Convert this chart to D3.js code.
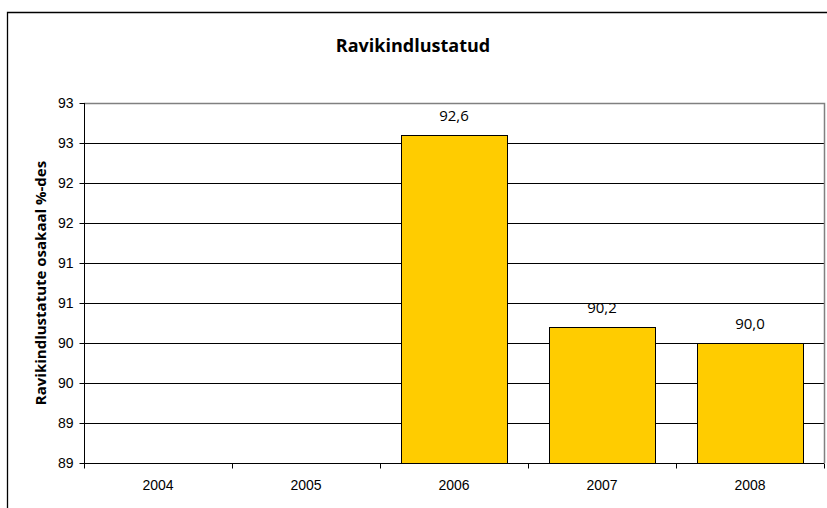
<!DOCTYPE html>
<html>
<head>
<meta charset="utf-8">
<script src="https://cdn.jsdelivr.net/npm/d3@7"></script>
<style>
  body { margin: 0; background: #fff; }
  svg { display: block; }
</style>
</head>
<body>
<svg id="chart"></svg>
<script>
var years = ["2004", "2005", "2006", "2007", "2008"];
var values = [null, null, 92.6, 90.2, 90.0];
var yTicks = [88.5, 89, 89.5, 90, 90.5, 91, 91.5, 92, 92.5, 93];

var width = 827, height = 508;
var plotLeft = 84, plotRight = 824, plotTop = 103, plotBottom = 463;

var svg = d3.select("#chart")
  .attr("width", width)
  .attr("height", height);

// outer chart frame (cut off at right and bottom)
svg.append("path")
  .attr("d", "M7.5," + (height + 2) + "V12.5H" + (width + 2))
  .style("fill", "none")
  .style("stroke", "#000")
  .style("stroke-width", 1.3);

svg.append("text")
  .attr("x", 413)
  .attr("y", 52)
  .attr("text-anchor", "middle")
  .style("font-family", "'Liberation Sans Narrow', 'Open Sans', sans-serif")
  .style("font-size", "18px")
  .style("font-weight", "bold")
  .text("Ravikindlustatud");

var x = d3.scaleBand()
  .domain(years)
  .range([plotLeft, plotRight])
  .paddingInner(0.285)
  .paddingOuter(0.1425);

var xTickScale = d3.scaleBand()
  .domain(years)
  .range([plotLeft, plotRight]);

var y = d3.scaleLinear()
  .domain([88.5, 93])
  .range([plotBottom, plotTop]);

// gridlines
svg.append("g")
  .selectAll("line")
  .data(yTicks.slice(1, -1))
  .enter().append("line")
    .attr("x1", plotLeft)
    .attr("x2", plotRight)
    .attr("y1", function (d) { return Math.round(y(d)) + 0.5; })
    .attr("y2", function (d) { return Math.round(y(d)) + 0.5; })
    .style("stroke", "#000")
    .style("stroke-width", 1);

// plot area border (top + right)
svg.append("path")
  .attr("d", "M" + plotLeft + "," + (plotTop + 0.5) + "H" + (plotRight + 0.5) + "V" + plotBottom)
  .style("fill", "none")
  .style("stroke", "#808080")
  .style("stroke-width", 1.5);

var barData = years.map(function (yr, i) { return { year: yr, value: values[i] }; })
  .filter(function (d) { return d.value != null; });

// bars
svg.append("g")
  .selectAll("rect")
  .data(barData)
  .enter().append("rect")
    .attr("x", function (d) { return Math.round(x(d.year)) + 0.5; })
    .attr("y", function (d) { return Math.round(y(d.value)) + 0.5; })
    .attr("width", Math.round(x.bandwidth()))
    .attr("height", function (d) { return plotBottom - Math.round(y(d.value)); })
    .style("fill", "#ffcc00")
    .style("stroke", "#000")
    .style("stroke-width", 1);

// value labels
svg.append("g")
  .selectAll("text")
  .data(barData)
  .enter().append("text")
    .attr("x", function (d) { return x(d.year) + x.bandwidth() / 2; })
    .attr("y", function (d) { return y(d.value) - 14; })
    .attr("text-anchor", "middle")
    .style("font-family", "'Liberation Sans Narrow', 'Open Sans', sans-serif")
    .style("font-size", "15px")
    .text(function (d) { return d.value.toFixed(1).replace(".", ","); });

// y axis
var yAxis = svg.append("g")
  .attr("transform", "translate(" + (plotLeft + 0.5) + ",0)")
  .call(d3.axisLeft(y)
    .tickValues(yTicks)
    .tickSize(5)
    .tickPadding(6)
    .tickFormat(function (d) { return Math.round(d); }));
yAxis.select(".domain").attr("d", "M0," + plotTop + "V" + plotBottom).style("stroke", "#000");
yAxis.selectAll("text")
  .style("font-family", "'Liberation Sans', Arial, sans-serif")
  .style("font-size", "14px")
  .style("fill", "#000");

// x axis
var xAxis = svg.append("g")
  .attr("transform", "translate(0," + (plotBottom + 0.5) + ")")
  .call(d3.axisBottom(xTickScale).tickSize(0).tickPadding(17));
xAxis.select(".domain").attr("d", "M" + plotLeft + ",0H" + plotRight).style("stroke", "#000");
xAxis.selectAll("text")
  .style("font-family", "'Liberation Sans', Arial, sans-serif")
  .style("font-size", "14px")
  .style("fill", "#000");
xAxis.selectAll(".sep")
  .data(d3.range(years.length + 1))
  .enter().append("line")
    .attr("class", "sep")
    .attr("x1", function (i) { return Math.round(plotLeft + i * xTickScale.step()) + 0.5; })
    .attr("x2", function (i) { return Math.round(plotLeft + i * xTickScale.step()) + 0.5; })
    .attr("y1", 0)
    .attr("y2", 5)
    .style("stroke", "#000");

// y axis title
svg.append("text")
  .attr("transform", "translate(46," + ((plotTop + plotBottom) / 2) + ") rotate(-90)")
  .attr("text-anchor", "middle")
  .style("font-family", "'Liberation Sans Narrow', 'Open Sans', sans-serif")
  .style("font-size", "15px")
  .style("font-weight", "bold")
  .text("Ravikindlustatute  osakaal %-des");
</script>
</body>
</html>
